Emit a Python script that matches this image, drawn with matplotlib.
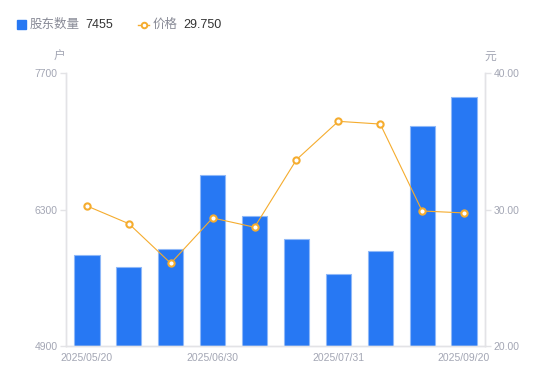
import matplotlib
matplotlib.use('Agg')
import matplotlib.pyplot as plt
import numpy as np

plt.rcParams['font.family'] = ['Liberation Sans', 'Noto Sans CJK SC']

dates = ['2025/05/20', '', '', '2025/06/30', '', '', '2025/07/31', '', '', '2025/09/20']
holders = [5833, 5713, 5892, 6651, 6233, 6000, 5638, 5877, 7159, 7455]
price = [30.26, 28.96, 26.06, 29.38, 28.70, 33.65, 36.46, 36.26, 29.89, 29.75]

blue = '#2778f3'
orange = '#f5ac2e'
grey = '#a3a6b4'
axis_c = '#e3e3e6'

fig = plt.figure(figsize=(5.5, 3.81), dpi=100)
ax = fig.add_axes([66/550, 1-346/381, 419/550, 273/381])
ax2 = ax.twinx()

x = np.arange(len(holders))
ax.bar(x, holders, width=0.6, color=blue, edgecolor='#8fb8f8', linewidth=0.8, zorder=2)
ax.set_xlim(-0.5, len(holders)-0.5)
ax.set_ylim(4900, 7700)
ax.set_yticks([4900, 6300, 7700])
ax.set_xticks(x)
ax.set_xticklabels(dates)

ax2.plot(x, price, color=orange, lw=0.8, marker='o', ms=4.5, mfc='white', mec=orange, mew=1.5, zorder=3)
ax2.set_ylim(20, 40)
ax2.set_yticks([20, 30, 40])
ax2.set_yticklabels(['20.00', '30.00', '40.00'])

for a in (ax, ax2):
    a.spines['top'].set_visible(False)
    for s in ('left', 'right', 'bottom'):
        a.spines[s].set_color(axis_c)
        a.spines[s].set_linewidth(1)
    a.tick_params(axis='y', colors=axis_c, labelcolor=grey, labelsize=7.5, length=4, width=1, pad=2)
ax.tick_params(axis='x', length=0, labelcolor=grey, labelsize=7.5, pad=5)

fig.text(59/550, 1-57/381, '户', color=grey, fontsize=8.5, ha='center', va='center')
fig.text(490/550, 1-57/381, '元', color=grey, fontsize=8.5, ha='center', va='center')

# legend
ly = 1-24.5/381
fig.patches.append(plt.Rectangle((17/550, 1-29/381), 9/550, 9/381, transform=fig.transFigure,
                                 color=blue, figure=fig))
fig.text(30/550, ly, '股东数量', color='#888a96', fontsize=9, va='center')
fig.text(85/550, ly, str(holders[-1]), color='#333333', fontsize=9, va='center')
fig.lines.append(plt.Line2D([138/550, 149/550], [ly, ly], transform=fig.transFigure, color=orange,
                            lw=1, figure=fig))
fig.lines.append(plt.Line2D([143.5/550], [ly], transform=fig.transFigure, color=orange,
                            lw=0, marker='o', ms=4, mfc='white', mec=orange, mew=1.4, figure=fig))
fig.text(153/550, ly, '价格', color='#888a96', fontsize=9, va='center')
fig.text(183/550, ly, '%.3f' % price[-1], color='#333333', fontsize=9, va='center')

fig.savefig('out.png', dpi=100)
